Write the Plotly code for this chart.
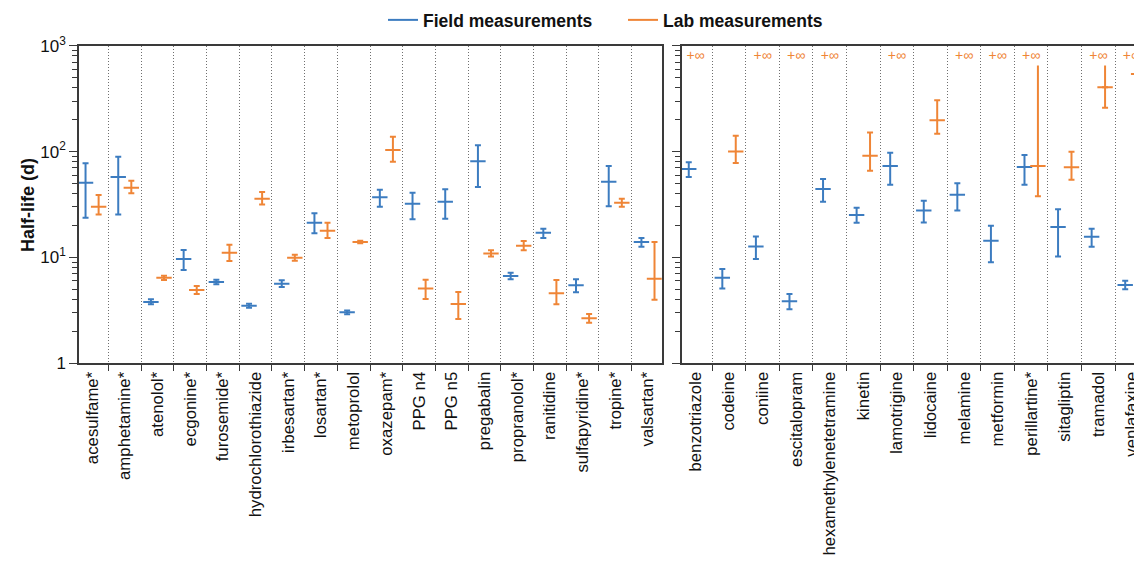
import math
import plotly.graph_objects as go

INF = math.inf

# ---------------- data ----------------
left_compounds = ["acesulfame*", "amphetamine*", "atenolol*", "ecgonine*", "furosemide*",
                  "hydrochlorothiazide", "irbesartan*", "losartan*", "metoprolol", "oxazepam*",
                  "PPG n4", "PPG n5", "pregabalin", "propranolol*", "ranitidine",
                  "sulfapyridine*", "tropine*", "valsartan*"]
left_field_mid = [50.7, 57.4, 3.79, 9.66, 5.86, 3.5, 5.65, 21.3, 3.03, 37.0, 32.1, 33.6, 80.8, 6.67, 17.1, 5.45, 51.9, 14.0]
left_field_lo = [23.7, 25.5, 3.61, 7.6, 5.57, 3.35, 5.25, 16.9, 2.9, 30.1, 23.0, 23.2, 46.2, 6.21, 15.3, 4.68, 30.4, 12.6]
left_field_hi = [77.4, 89.3, 4.02, 11.75, 6.16, 3.65, 6.08, 26.1, 3.16, 43.6, 40.8, 44.0, 114.5, 7.17, 18.7, 6.21, 72.9, 15.3]
left_lab_mid = [30.1, 45.5, 6.43, 4.92, 11.07, 35.8, 9.94, 17.9, 14.0, 103.3, 5.1, 3.63, 10.9, 12.9, 4.58, 2.66, 32.9, 6.29]
left_lab_lo = [25.5, 40.3, 6.12, 4.51, 9.25, 31.7, 9.3, 15.3, 13.6, 80.1, 4.05, 2.62, 10.2, 11.7, 3.61, 2.42, 30.1, 3.99]
left_lab_hi = [38.8, 53.0, 6.72, 5.37, 13.2, 41.5, 10.6, 21.3, 14.4, 138.0, 6.16, 4.71, 11.7, 14.3, 6.12, 2.92, 35.8, 14.0]

right_compounds = ["benzotriazole", "codeine", "coniine", "escitalopram", "hexamethylenetetramine",
                   "kinetin", "lamotrigine", "lidocaine", "melamine", "metformin",
                   "perillartine*", "sitagliptin", "tramadol", "venlafaxine"]
right_field_mid = [68.4, 6.43, 12.7, 3.85, 44.3, 25.1, 72.9, 27.8, 39.1, 14.4, 71.4, 19.4, 15.7, 5.49]
right_field_lo = [57.4, 5.1, 9.66, 3.24, 33.6, 21.3, 48.6, 21.4, 27.8, 9.0, 48.6, 10.2, 12.6, 5.0]
right_field_hi = [79.1, 7.77, 15.8, 4.51, 55.0, 29.5, 97.5, 34.3, 50.1, 19.9, 92.7, 28.5, 18.7, 6.03]
right_lab_mid = [INF, 100.4, INF, INF, INF, 91.2, INF, 198.0, INF, INF, 72.9, 71.0, 404.0, 540.0]
right_lab_lo = [INF, 77.9, INF, INF, INF, 65.9, INF, 147.0, INF, INF, 37.8, 54.2, 259.0, 525.0]
right_lab_hi = [INF, 141.0, INF, INF, INF, 151.8, INF, 306.0, INF, INF, INF, 99.5, INF, INF]

y_tickvals = [1, 10, 100, 1000]
y_ticktext = ["1", "10<sup>1</sup>", "10<sup>2</sup>", "10<sup>3</sup>"]

# ---------------- style ----------------
BLUE = "#3C7CC0"
ORANGE = "#EF8536"
AXC = "#3a3a3a"
FONT = "Liberation Sans"
INF_LINE_TOP = 650      # display level for an infinite upper bound
INF_LABEL_Y = 785       # display level for the "+∞" marker text
OFF = 0.2
PAD = 8                 # page body margin of the browser
W, H = 1142 - PAD, 568 - PAD


def px_x(p):
    return (p - PAD) / W


def px_y(p):
    return 1 - (p - PAD) / H


fig = go.Figure()


def add_series(names, mid, lo, hi, color, offset, xa, ya):
    xs, ys, ep, em = [], [], [], []
    lx, ly = [], []
    for i in range(len(names)):
        if not math.isfinite(mid[i]):
            continue
        x = i + offset
        xs.append(x)
        ys.append(mid[i])
        em.append(mid[i] - lo[i])
        if math.isfinite(hi[i]):
            ep.append(hi[i] - mid[i])
        else:
            ep.append(0)
            lx += [x, x, None]
            ly += [mid[i], INF_LINE_TOP, None]
    if lx:
        fig.add_trace(go.Scatter(x=lx, y=ly, mode="lines", line=dict(color=color, width=2),
                                 xaxis=xa, yaxis=ya, showlegend=False, hoverinfo="skip"))
    fig.add_trace(go.Scatter(
        x=xs, y=ys, mode="markers", xaxis=xa, yaxis=ya, showlegend=False,
        marker=dict(symbol="line-ew", size=11, color=color, line=dict(color=color, width=2)),
        error_y=dict(type="data", symmetric=False, array=ep, arrayminus=em,
                     color=color, thickness=2, width=3)))


add_series(left_compounds, left_field_mid, left_field_lo, left_field_hi, BLUE, -OFF, "x", "y")
add_series(left_compounds, left_lab_mid, left_lab_lo, left_lab_hi, ORANGE, OFF, "x", "y")
add_series(right_compounds, right_field_mid, right_field_lo, right_field_hi, BLUE, -OFF, "x2", "y2")
add_series(right_compounds, right_lab_mid, right_lab_lo, right_lab_hi, ORANGE, OFF, "x2", "y2")

# "+∞" markers where the lab upper bound is infinite
inf_x = [i for i in range(len(right_compounds)) if not math.isfinite(right_lab_hi[i])]
fig.add_trace(go.Scatter(x=inf_x, y=[INF_LABEL_Y] * len(inf_x), mode="text",
                         text=["+∞"] * len(inf_x), xaxis="x2", yaxis="y2", showlegend=False,
                         textfont=dict(color=ORANGE, size=14, family=FONT), hoverinfo="skip"))

# legend entries
fig.add_trace(go.Scatter(x=[None], y=[None], mode="lines", name="Field measurements",
                         line=dict(color=BLUE, width=2)))
fig.add_trace(go.Scatter(x=[None], y=[None], mode="lines", name="Lab measurements",
                         line=dict(color=ORANGE, width=2)))

y_minor = [d * 10 ** k for k in range(3) for d in range(2, 10)]


def xaxis_cfg(names, dom, rng):
    return dict(
        domain=dom, range=rng, showline=True, linecolor=AXC, linewidth=1.5, mirror=True,
        tickmode="array", tickvals=list(range(len(names))), ticktext=names, ticks="",
        tickangle=-90, tickfont=dict(family=FONT, size=16.8, color="#111"),
        ticklabeloverflow="allow",
        showgrid=False, zeroline=False, automargin=False,
        minor=dict(tickmode="array", tickvals=[k + 0.5 for k in range(len(names))],
                   ticks="outside", ticklen=6, tickcolor=AXC, tickwidth=1,
                   showgrid=True, griddash="1px,2px", gridcolor="#6f6f6f", gridwidth=1),
    )


def yaxis_cfg(dom, labels, mirror):
    cfg = dict(
        domain=dom, type="log", range=[0, 3], showline=True, linecolor=AXC, linewidth=1.5,
        mirror=mirror, tickmode="array", tickvals=y_tickvals, showticklabels=labels,
        ticks="outside", ticklen=8, tickcolor=AXC, tickwidth=1.2,
        tickfont=dict(family=FONT, size=17, color="#111"),
        showgrid=False, zeroline=False, automargin=False,
        minor=dict(tickmode="array", tickvals=y_minor, ticks="outside", ticklen=5,
                   tickcolor=AXC, tickwidth=1, showgrid=False),
    )
    if labels:
        cfg["ticktext"] = y_ticktext
    return cfg


ydom = [px_y(363.3), px_y(45.7)]
fig.update_layout(
    width=W, height=H,
    margin=dict(l=0, r=0, t=0, b=0, autoexpand=False),
    paper_bgcolor="white", plot_bgcolor="white",
    font=dict(family=FONT, color="#111"),
    xaxis=dict(**xaxis_cfg(left_compounds, [px_x(79), px_x(661.7)], [-0.4, 17.42]), anchor="y"),
    yaxis=dict(**yaxis_cfg(ydom, True, True), anchor="x"),
    xaxis2=dict(**xaxis_cfg(right_compounds, [px_x(681.7), 1.0], [-0.41, 13.3]), anchor="y2"),
    yaxis2=dict(**yaxis_cfg(ydom, False, False), anchor="x2"),
    legend=dict(orientation="h", x=px_x(383), xanchor="left", y=px_y(20), yanchor="middle",
                font=dict(family=FONT, size=17.5, color="#111", weight="bold"),
                bgcolor="rgba(0,0,0,0)", entrywidth=195, entrywidthmode="pixels",
                itemclick=False, itemdoubleclick=False),
    annotations=[dict(text="<b>Half-life (d)</b>", textangle=-90, x=px_x(28), y=px_y(205),
                      xref="paper", yref="paper", xanchor="center", yanchor="middle",
                      showarrow=False, font=dict(family=FONT, size=18, color="#111"))],
)

fig.write_html("out.html")
